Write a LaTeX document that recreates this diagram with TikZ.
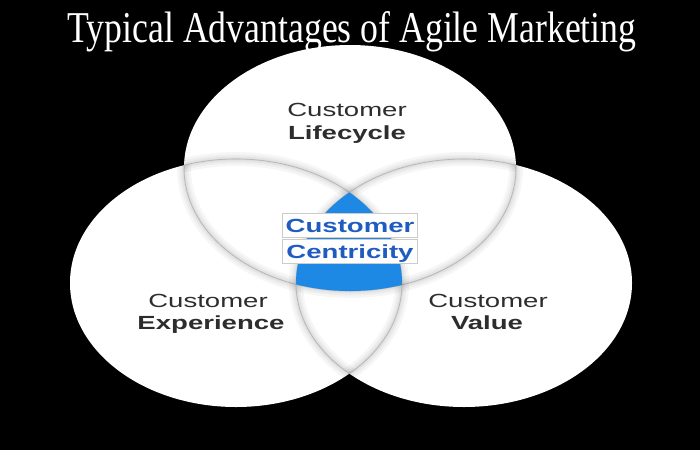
\documentclass[tikz,border=0pt]{standalone}
\usepackage{fontspec}
\setmainfont{Liberation Serif}
\setsansfont{Liberation Sans}
\usepackage{xcolor}
\usepackage{tikz}
\usetikzlibrary{positioning}

\definecolor{venngray}{RGB}{45,45,45}
\definecolor{vennblue}{RGB}{30,136,229}
\definecolor{centblue}{RGB}{32,92,192}
\newcommand{\wide}[1]{\scalebox{1.45}[1]{#1}}

\begin{document}
\begin{tikzpicture}[x=1pt,y=-1pt,
  lbl/.style={font=\sffamily\fontsize{19}{19}\selectfont,text=venngray,inner sep=0pt,anchor=base},
  lblbold/.style={lbl,font=\sffamily\bfseries\fontsize{19}{19}\selectfont},
  ctrbox/.style={font=\sffamily\bfseries\fontsize{19}{19}\selectfont,text=centblue,
    fill=white,draw=black!20,line width=0.6pt,anchor=base,inner sep=0pt,
    minimum width=135pt,text height=19pt,text depth=5.5pt},
  toprad/.style={x radius=166pt,y radius=123pt},
  leftrad/.style={x radius=166pt,y radius=124pt},
  rightrad/.style={x radius=168pt,y radius=124pt},
  soft/.style={draw=black,line width=#1,opacity=0.035}]
\fill[black] (0,0) rectangle (700,450);
\useasboundingbox (0,0) rectangle (700,450);

\coordinate (ctop) at (350,168);
\coordinate (cleft) at (236,283);
\coordinate (cright) at (464,283);

% the three sets
\fill[white] (ctop) ellipse [toprad];
\fill[white] (cleft) ellipse [leftrad];
\fill[white] (cright) ellipse [rightrad];

% soft edges where the sets overlap
\begin{scope}
  \clip (cleft) ellipse [leftrad] (cright) ellipse [rightrad];
  \foreach \w in {14pt,9pt,5pt,2pt}
    \draw[soft=\w] (ctop) ellipse [toprad];
  \draw[black!30,line width=0.6pt] (ctop) ellipse [toprad];
\end{scope}
\begin{scope}
  \clip (ctop) ellipse [toprad] (cright) ellipse [rightrad];
  \foreach \w in {14pt,9pt,5pt,2pt}
    \draw[soft=\w] (cleft) ellipse [leftrad];
  \draw[black!30,line width=0.6pt] (cleft) ellipse [leftrad];
\end{scope}
\begin{scope}
  \clip (ctop) ellipse [toprad] (cleft) ellipse [leftrad];
  \foreach \w in {14pt,9pt,5pt,2pt}
    \draw[soft=\w] (cright) ellipse [rightrad];
  \draw[black!30,line width=0.6pt] (cright) ellipse [rightrad];
\end{scope}

% centre
\begin{scope}
  \clip (ctop) ellipse [toprad];
  \clip (cleft) ellipse [leftrad];
  \fill[vennblue] (cright) ellipse [rightrad];
\end{scope}

\node[anchor=base,text=white,inner sep=0pt] (title) at (352,42)
  {\resizebox{569pt}{31pt}{\fontsize{40}{40}\selectfont Typical Advantages of Agile Marketing}};

\node[lbl] (lifeA) at (347,116) {\wide{Customer}};
\node[lblbold] (lifeB) at (347,139) {\wide{Lifecycle}};
\node[lbl] (expA) at (208,307) {\wide{Customer}};
\node[lblbold] (expB) at (211,329) {\wide{Experience}};
\node[lbl] (valA) at (488,307) {\wide{Customer}};
\node[lblbold] (valB) at (487,329) {\wide{Value}};

\node[ctrbox] (centA) at (350,232) {\wide{Customer}};
\node[ctrbox] (centB) at (350,258) {\wide{Centricity}};
\end{tikzpicture}
\end{document}
